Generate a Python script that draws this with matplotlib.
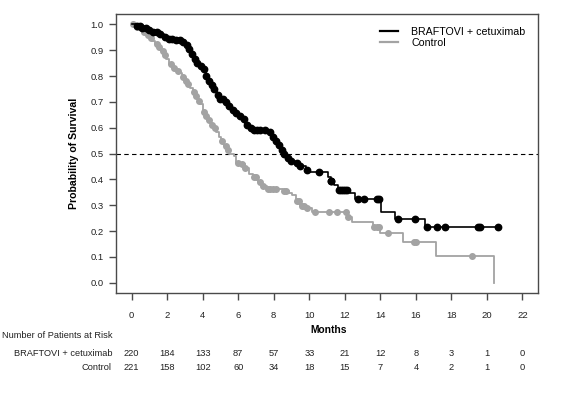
import numpy as np
import matplotlib
matplotlib.use('Agg')
import matplotlib.pyplot as plt
from matplotlib import transforms

plt.rcParams['font.family'] = ['Liberation Sans', 'DejaVu Sans']

# Kaplan-Meier steps (time in months, survival after the drop)
braf_t = [0, 0.3, 0.6, 0.9, 1.2, 1.5, 1.8, 2.1, 2.4, 2.8, 3.0, 3.15, 3.3, 3.45, 3.6, 3.8,
          4.0, 4.2, 4.3, 4.45, 4.6, 4.8, 5.0, 5.2, 5.4, 5.6, 5.8, 6.0, 6.2, 6.4, 6.6, 6.85,
          7.6, 7.85, 8.0, 8.2, 8.35, 8.5, 8.7, 8.9, 9.2, 9.45, 9.8, 9.95, 11.05, 11.2, 11.4,
          11.6, 12.3, 12.6, 14.05, 14.85, 16.5]
braf_s = [1.0, 0.995, 0.985, 0.978, 0.97, 0.962, 0.952, 0.943, 0.938, 0.933, 0.92, 0.905,
          0.885, 0.865, 0.85, 0.838, 0.826, 0.80, 0.78, 0.765, 0.748, 0.728, 0.712, 0.70,
          0.685, 0.668, 0.655, 0.645, 0.632, 0.612, 0.598, 0.59, 0.583, 0.562, 0.548, 0.532,
          0.515, 0.497, 0.482, 0.472, 0.462, 0.45, 0.436, 0.43, 0.41, 0.395, 0.378, 0.36,
          0.346, 0.323, 0.274, 0.247, 0.217]
braf_end = 20.6
braf_cens = [0.3, 0.45, 0.6, 0.8, 1.0, 1.2, 1.4, 1.6, 1.9, 2.1, 2.3, 2.5, 2.7, 2.9, 3.1,
             3.25, 3.4, 3.55, 3.7, 3.9, 4.05, 4.2, 4.35, 4.5, 4.65, 4.85, 5.0, 5.15, 5.3,
             5.5, 5.7, 5.9, 6.1, 6.3, 6.5, 6.7, 6.9, 7.05, 7.25, 7.5, 7.8, 7.95, 8.15, 8.3,
             8.45, 8.6, 8.8, 9.0, 9.3, 9.5, 9.9, 10.55, 11.2, 11.25, 11.7, 11.8, 11.9, 12.0,
             12.1, 12.75, 13.1, 13.8, 13.9, 15.0, 15.95, 16.65, 17.2, 17.65, 19.5, 19.6, 20.6]

ctrl_t = [0, 0.2, 0.4, 0.6, 0.8, 1.0, 1.15, 1.3, 1.5, 1.65, 1.8, 1.95, 2.1, 2.3, 2.5, 2.7,
          2.85, 3.0, 3.15, 3.3, 3.45, 3.6, 3.75, 3.85, 4.0, 4.15, 4.3, 4.45, 4.6, 4.75, 4.9,
          5.05, 5.2, 5.35, 5.5, 5.75, 5.9, 6.1, 6.4, 6.6, 6.85, 7.1, 7.35, 7.6, 8.5, 8.85,
          9.05, 9.25, 9.5, 9.75, 10.15, 12.2, 12.4, 13.6, 14.0, 15.3, 17.15, 20.4]
ctrl_s = [1.0, 0.99, 0.98, 0.97, 0.96, 0.947, 0.935, 0.925, 0.912, 0.895, 0.88, 0.865,
          0.848, 0.832, 0.82, 0.81, 0.795, 0.782, 0.768, 0.755, 0.738, 0.722, 0.705, 0.69,
          0.66, 0.645, 0.63, 0.612, 0.598, 0.585, 0.565, 0.548, 0.528, 0.512, 0.5, 0.492,
          0.465, 0.458, 0.445, 0.42, 0.41, 0.39, 0.374, 0.364, 0.354, 0.347, 0.34, 0.315,
          0.298, 0.289, 0.275, 0.256, 0.236, 0.214, 0.191, 0.156, 0.103, 0.0]
ctrl_cens = [0.1, 0.3, 0.7, 0.9, 1.1, 1.4, 1.55, 1.75, 1.9, 2.2, 2.4, 2.6, 2.9, 3.05, 3.2,
             3.5, 3.65, 3.8, 4.05, 4.2, 4.35, 4.5, 4.7, 5.1, 5.3, 5.4, 6.0, 6.2, 6.4, 6.9,
             7.0, 7.25, 7.4, 7.65, 7.8, 7.95, 8.1, 8.6, 8.7, 9.3, 9.4, 9.6, 9.7, 9.9, 10.3,
             11.1, 11.55, 12.05, 12.2, 13.65, 13.8, 13.9, 14.45, 15.9, 16.0, 19.15]

months = [0, 2, 4, 6, 8, 10, 12, 14, 16, 18, 20, 22]
risk_braf = [220, 184, 133, 87, 57, 33, 21, 12, 8, 3, 1, 0]
risk_ctrl = [221, 158, 102, 60, 34, 18, 15, 7, 4, 2, 1, 0]

BLACK = 'black'
GREY = '#a3a3a3'
FRAME = '#4a4a4a'


def surv_at(times, surv, c):
    idx = np.searchsorted(times, c, side='right') - 1
    return np.asarray(surv)[idx]


fig = plt.figure(figsize=(5.67, 3.98), dpi=100)
ax = fig.add_axes([0.2046, 0.2638, 0.7443, 0.701])

ax.axhline(0.5, color='black', lw=0.8, ls=(0, (4, 3)))

# control arm
ax.step(ctrl_t, ctrl_s, where='post', color=GREY, lw=1.3)
ax.plot(ctrl_cens, surv_at(ctrl_t, ctrl_s, ctrl_cens), 'o', color=GREY, ms=4, mec=GREY)

# BRAFTOVI arm
ax.step(braf_t + [braf_end], braf_s + [braf_s[-1]], where='post', color=BLACK, lw=1.2)
ax.plot(braf_cens, surv_at(braf_t, braf_s, braf_cens), 'o', color=BLACK, ms=4.6)

ax.plot([], [], color=BLACK, lw=1.6, label='BRAFTOVI + cetuximab')
ax.plot([], [], color=GREY, lw=1.6, label='Control')
ax.legend(loc='upper left', bbox_to_anchor=(0.6256, 0.955), frameon=False,
          borderaxespad=0, borderpad=0, fontsize=7.7, handlelength=1.7,
          handletextpad=1.2, labelspacing=0.1)

ax.set_xlim(-0.88, 22.88)
ax.set_ylim(-0.04, 1.04)
ax.set_xticks(months)
ax.set_yticks(np.arange(0, 1.01, 0.1))
ax.set_yticklabels(['%.1f' % v for v in np.arange(0, 1.01, 0.1)])
for sp in ax.spines.values():
    sp.set_color(FRAME)
    sp.set_linewidth(1.0)
ax.tick_params(axis='both', colors=FRAME, labelcolor='#222222', labelsize=6.8,
               length=5, width=1.0)
ax.tick_params(axis='x', pad=8)
ax.tick_params(axis='y', pad=4)

ax.set_ylabel('Probability of Survival', fontsize=7.6, fontweight='bold', labelpad=8)
fig.text(329 / 567, 1 - 330 / 398, 'Months', fontsize=7.4, fontweight='bold',
         ha='center', va='center')

# number at risk table
tr = transforms.blended_transform_factory(ax.transData, fig.transFigure)
fig.text(2 / 567, 1 - 336 / 398, 'Number of Patients at Risk', fontsize=6.7,
         ha='left', va='center', color='#222222')
fig.text(112 / 567, 1 - 353 / 398, 'BRAFTOVI + cetuximab', fontsize=6.7,
         ha='right', va='center', color='#222222')
fig.text(112 / 567, 1 - 367 / 398, 'Control', fontsize=6.7,
         ha='right', va='center', color='#222222')
for m, a, b in zip(months, risk_braf, risk_ctrl):
    ax.text(m, 1 - 353 / 398, str(a), transform=tr, fontsize=6.7, ha='center',
            va='center', color='#222222')
    ax.text(m, 1 - 367 / 398, str(b), transform=tr, fontsize=6.7, ha='center',
            va='center', color='#222222')

fig.savefig('out.png', dpi=100)
